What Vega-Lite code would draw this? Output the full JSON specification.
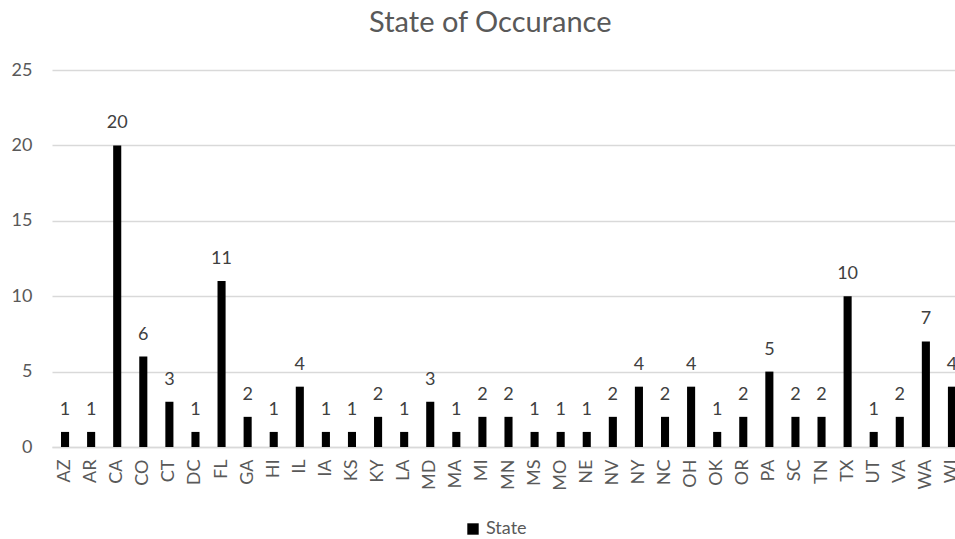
{
  "$schema": "https://vega.github.io/schema/vega-lite/v6.json",
  "autosize": "none",
  "width": 913,
  "height": 377,
  "padding": {"left": 52, "top": 70, "right": 0, "bottom": 92},
  "background": "white",
  "config": {"view": {"stroke": null}, "font": "Lato"},
  "title": {"text": "State of Occurance", "fontSize": 29, "fontWeight": "normal", "color": "#595959", "font": "Lato", "anchor": "start", "dx": 358, "offset": 23},
  "data": {"values": [
    {"state": "AZ", "count": 1}, {"state": "AR", "count": 1}, {"state": "CA", "count": 20},
    {"state": "CO", "count": 6}, {"state": "CT", "count": 3}, {"state": "DC", "count": 1},
    {"state": "FL", "count": 11}, {"state": "GA", "count": 2}, {"state": "HI", "count": 1},
    {"state": "IL", "count": 4}, {"state": "IA", "count": 1}, {"state": "KS", "count": 1},
    {"state": "KY", "count": 2}, {"state": "LA", "count": 1}, {"state": "MD", "count": 3},
    {"state": "MA", "count": 1}, {"state": "MI", "count": 2}, {"state": "MN", "count": 2},
    {"state": "MS", "count": 1}, {"state": "MO", "count": 1}, {"state": "NE", "count": 1},
    {"state": "NV", "count": 2}, {"state": "NY", "count": 4}, {"state": "NC", "count": 2},
    {"state": "OH", "count": 4}, {"state": "OK", "count": 1}, {"state": "OR", "count": 2},
    {"state": "PA", "count": 5}, {"state": "SC", "count": 2}, {"state": "TN", "count": 2},
    {"state": "TX", "count": 10}, {"state": "UT", "count": 1}, {"state": "VA", "count": 2},
    {"state": "WA", "count": 7}, {"state": "WI", "count": 4}
  ]},
  "encoding": {
    "x": {"field": "state", "type": "nominal", "sort": null,
      "scale": {"paddingInner": 0.69, "paddingOuter": 0.345},
      "axis": {"title": null, "labelAngle": -90, "labelFontSize": 18, "labelColor": "#595959", "labelPadding": 12, "ticks": false, "domainColor": "#d9d9d9", "domainWidth": 1.5, "labelFont": "Lato"}},
    "y": {"field": "count", "type": "quantitative",
      "scale": {"domain": [0, 25]},
      "axis": {"title": null, "values": [0, 5, 10, 15, 20, 25], "labelFontSize": 18, "labelColor": "#595959", "labelPadding": 20, "ticks": false, "domain": false, "gridColor": "#d9d9d9", "gridWidth": 1.5, "labelFont": "Lato"}}
  },
  "layer": [
    {"mark": {"type": "bar"},
     "encoding": {"color": {"datum": "State", "scale": {"range": ["#000000"]},
       "legend": {"title": null, "orient": "none", "legendX": 412, "legendY": 450, "symbolType": "square", "symbolSize": 130, "labelFontSize": 18, "labelColor": "#595959", "labelFont": "Lato"}}}},
    {"mark": {"type": "text", "dy": -22, "fontSize": 18, "color": "#404040", "font": "Lato"},
     "encoding": {"text": {"field": "count", "type": "quantitative"}}}
  ]
}
